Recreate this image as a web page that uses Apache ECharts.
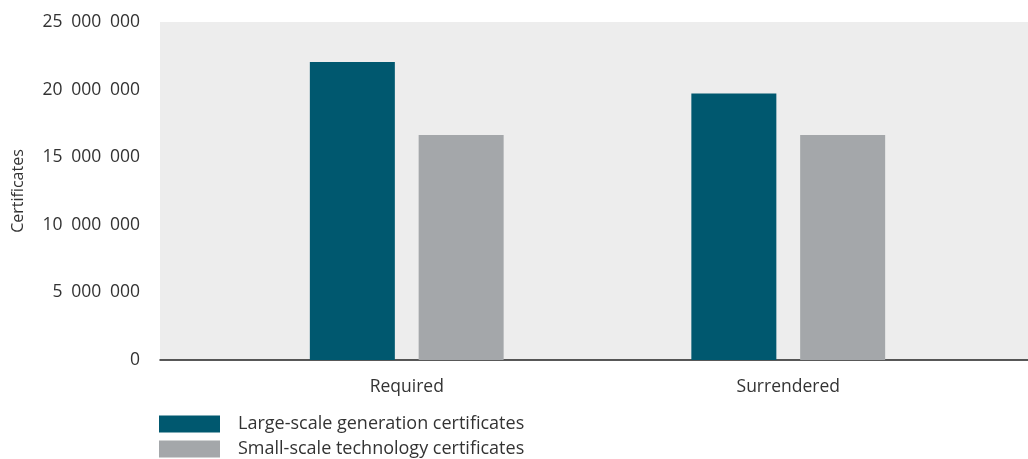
<!DOCTYPE html>
<html><head><meta charset="utf-8">
<script src="https://cdn.jsdelivr.net/npm/echarts@6/dist/echarts.min.js"></script>
<style>html,body{margin:0;padding:0;background:#fff}#c{width:1028px;height:459px}</style>
</head><body><div id="c"></div>
<script>
const categories = ['Required', 'Surrendered'];
const largeScale = [22040000, 19720000];
const smallScale = [16640000, 16640000];
const yTicks = [0, 5000000, 10000000, 15000000, 20000000, 25000000];
const seriesNames = ['Large-scale generation certificates', 'Small-scale technology certificates'];

const FONT = '"Open Sans", sans-serif';
const TXT = '#333333';
function fmt(v){ return String(v).replace(/\B(?=(\d{3})+(?!\d))/g, '\u2002'); }

const chart = echarts.init(document.getElementById('c'));
chart.setOption({
  animation: false,
  grid: [
    {left: 160, right: 0, top: 22, bottom: 99, show: true, backgroundColor: '#ededed', borderWidth: 0},
    {left: 216, right: 49, top: 22, bottom: 99}
  ],
  legend: {
    orient: 'vertical', left: 159, top: 415, padding: 0, itemWidth: 61, itemHeight: 17, itemGap: 7,
    icon: 'rect',
    data: seriesNames,
    textStyle: {fontFamily: FONT, fontSize: 18, color: TXT, padding: [0, 0, 0, 13]}
  },
  xAxis: [
    {gridIndex: 0, type: 'category', data: categories, axisLine: {show: true, lineStyle: {color: '#222', width: 1.5}},
     axisTick: {show: false}, axisLabel: {show: false}, splitLine: {show: false}},
    {gridIndex: 1, type: 'category', data: categories, axisLine: {show: false}, axisTick: {show: false},
     axisLabel: {fontFamily: FONT, fontSize: 17.5, color: TXT, margin: 18}}
  ],
  yAxis: [
    {gridIndex: 0, type: 'value', min: yTicks[0], max: yTicks[yTicks.length-1], interval: yTicks[1]-yTicks[0],
     name: 'Certificates', nameLocation: 'middle', nameGap: 134,
     nameTextStyle: {fontFamily: FONT, fontSize: 16, color: TXT},
     axisLine: {show: false}, axisTick: {show: false}, splitLine: {show: false},
     axisLabel: {fontFamily: FONT, fontSize: 17.5, color: TXT, margin: 20, formatter: fmt}},
    {gridIndex: 1, type: 'value', min: yTicks[0], max: yTicks[yTicks.length-1], interval: yTicks[1]-yTicks[0],
     show: false, splitLine: {show: false}}
  ],
  series: [
    {name: seriesNames[0], type: 'bar', xAxisIndex: 1, yAxisIndex: 1, data: largeScale,
     barWidth: 85, barGap: '28%', itemStyle: {color: '#00586f'}},
    {name: seriesNames[1], type: 'bar', xAxisIndex: 1, yAxisIndex: 1, data: smallScale,
     barWidth: 85, barGap: '28%', itemStyle: {color: '#a4a7aa'}}
  ]
});
</script></body></html>
